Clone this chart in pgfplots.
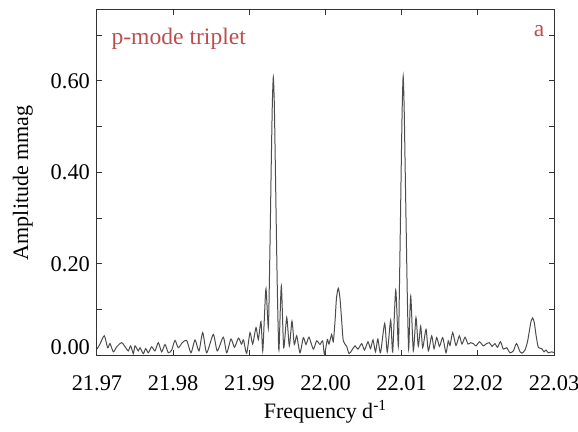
\documentclass[border=0pt]{standalone}
\usepackage{fontspec}
\setmainfont{Liberation Serif}
\usepackage{pgfplots}
\pgfplotsset{compat=1.18}
\usepackage{pgfplotstable}
\definecolor{labelred}{RGB}{190,78,78}

% amplitude spectrum, frequency in 1/d, amplitude in mmag
\pgfplotstableread{
f a
21.97000 0.014
21.97039 0.025
21.97096 0.043
21.97140 0.017
21.97171 0.026
21.97214 0.008
21.97259 0.019
21.97324 0.028
21.97377 0.017
21.97411 0.010
21.97442 0.021
21.97477 0.004
21.97499 0.021
21.97542 0.010
21.97565 0.017
21.97608 0.004
21.97639 0.015
21.97674 0.006
21.97718 0.019
21.97761 0.010
21.97805 0.028
21.97849 0.008
21.97893 0.024
21.97936 0.006
21.97981 0.012
21.98024 0.033
21.98067 0.017
21.98120 0.028
21.98178 0.033
21.98234 0.006
21.98287 0.034
21.98339 0.010
21.98388 0.050
21.98440 0.006
21.98527 0.046
21.98579 0.010
21.98658 0.040
21.98703 0.006
21.98759 0.036
21.98805 0.018
21.98858 0.038
21.98897 0.025
21.98923 0.034
21.98965 0.005
21.99009 0.050
21.99044 0.025
21.99088 0.061
21.99118 0.035
21.99153 0.074
21.99176 0.010
21.99197 0.080
21.99219 0.146
21.99249 0.060
21.99262 0.150
21.99275 0.280
21.99288 0.420
21.99302 0.550
21.99315 0.608
21.99328 0.550
21.99341 0.420
21.99354 0.280
21.99367 0.150
21.99380 0.050
21.99390 0.014
21.99420 0.152
21.99451 0.017
21.99491 0.083
21.99525 0.021
21.99560 0.075
21.99590 0.024
21.99622 0.043
21.99665 0.006
21.99709 0.039
21.99744 0.024
21.99783 0.040
21.99840 0.014
21.99884 0.032
21.99928 0.024
21.99963 0.032
21.99987 0.002
22.00024 0.035
22.00046 0.025
22.00081 0.046
22.00102 0.030
22.00125 0.075
22.00144 0.125
22.00168 0.147
22.00190 0.125
22.00213 0.075
22.00234 0.032
22.00278 0.020
22.00309 0.004
22.00348 0.012
22.00387 0.021
22.00427 0.014
22.00475 0.026
22.00512 0.012
22.00558 0.030
22.00591 0.015
22.00624 0.034
22.00656 0.008
22.00687 0.036
22.00722 0.006
22.00777 0.070
22.00811 0.008
22.00856 0.077
22.00882 0.008
22.00922 0.143
22.00956 0.020
22.00968 0.120
22.00981 0.260
22.00994 0.410
22.01007 0.540
22.01020 0.610
22.01033 0.540
22.01046 0.410
22.01060 0.270
22.01073 0.140
22.01086 0.040
22.01094 0.017
22.01119 0.130
22.01153 0.010
22.01188 0.083
22.01218 0.020
22.01250 0.064
22.01276 0.017
22.01320 0.057
22.01350 0.010
22.01394 0.043
22.01425 0.015
22.01460 0.039
22.01497 0.020
22.01539 0.039
22.01582 0.006
22.01612 0.032
22.01635 0.022
22.01670 0.050
22.01713 0.022
22.01757 0.043
22.01792 0.025
22.01832 0.040
22.01871 0.025
22.01904 0.028
22.01941 0.026
22.01976 0.021
22.02022 0.030
22.02072 0.021
22.02107 0.025
22.02151 0.028
22.02186 0.020
22.02225 0.026
22.02258 0.018
22.02298 0.030
22.02334 0.014
22.02379 0.017
22.02422 0.006
22.02466 0.010
22.02508 0.026
22.02554 0.008
22.02580 0.005
22.02619 0.012
22.02652 0.030
22.02678 0.055
22.02698 0.074
22.02720 0.082
22.02741 0.072
22.02764 0.045
22.02794 0.018
22.02839 0.015
22.02869 0.008
22.02895 0.012
22.02925 0.006
22.02970 0.008
22.03000 0.006
}\spectrum

\begin{document}
\begin{tikzpicture}
\begin{axis}[
  name=main,
  scale only axis,
  width=228.5pt, height=172.75pt,
  xmin=21.97, xmax=22.03,
  ymin=0, ymax=0.755,
  axis line style={black!80, line width=0.5pt},
  tick style={black!80, line width=0.5pt},
  tick align=inside,
  major tick length=2.5pt, minor tick length=2.5pt,
  xtick={21.97,21.98,21.99,22.00,22.01,22.02,22.03},
  ytick={0,0.2,0.4,0.6},
  yticklabels={\raisebox{4pt}[\height][\depth]{0.00},0.20,0.40,0.60},
  minor ytick={0.1,0.3,0.5,0.7},
  /pgf/number format/assume math mode=true,
  xticklabel style={/pgf/number format/fixed, /pgf/number format/fixed zerofill,
    /pgf/number format/precision=2, yshift=-6.5pt},
  ticklabel style={font=\fontsize{11.2}{13}\selectfont},
  xlabel={Frequency d\textsuperscript{-1}},
  ylabel={Amplitude mmag},
  label style={font=\fontsize{11}{13}\selectfont},
  xlabel style={at={(axis description cs:0.5,-0.164)}, anchor=center},
  ylabel style={at={(axis description cs:-0.162,0.5)}, anchor=center},
]
\addplot[black!70, line width=0.5pt, smooth, tension=0.4, mark=none] table[x=f, y=a] {\spectrum};
\node[anchor=base west, inner sep=0pt, text=labelred, font=\fontsize{11.8}{13}\selectfont]
  at (rel axis cs:0.031,0.899) {p-mode triplet};
\node[anchor=base east, inner sep=0pt, text=labelred, font=\fontsize{11.8}{13}\selectfont]
  at (rel axis cs:0.980,0.922) {a};
\end{axis}
\pgfresetboundingbox
\path[use as bounding box] ([xshift=-48.5pt,yshift=-38.25pt]main.south west)
  rectangle ([xshift=12pt,yshift=5pt]main.north east);
\end{tikzpicture}
\end{document}
